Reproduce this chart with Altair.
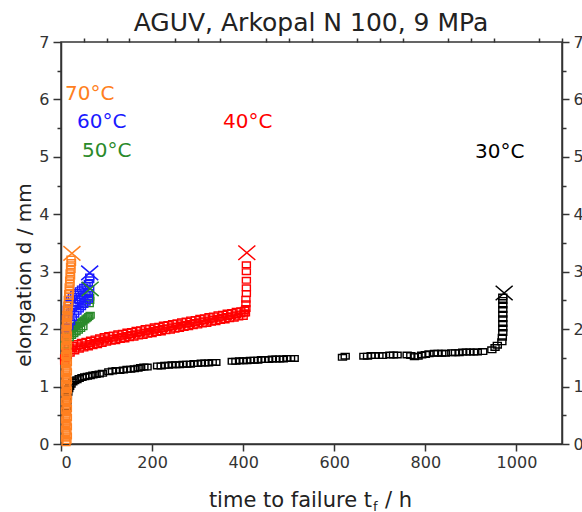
import altair as alt
import pandas as pd

# ---------------- data (time to failure t / h, elongation d / mm) ----------------
s30 = [(11,0.55),(12,0.65),(13,0.75),(14,0.83),(15,0.9),(17,0.96),(19,1.0),(22,1.04),(26,1.08),(30,1.1),
       (35,1.12),(40,1.14),(46,1.16),(52,1.17),(58,1.18),(64,1.19),(70,1.2),(77,1.21),(84,1.22),(91,1.23),
       (105,1.26),(113,1.27),(121,1.28),(129,1.28),(137,1.29),(145,1.3),(153,1.3),(161,1.31),(169,1.32),
       (175,1.33),(182,1.34),(189,1.34),
       (212,1.36),(220,1.36),(228,1.37),(236,1.37),(244,1.38),(252,1.38),(260,1.38),(268,1.39),(276,1.39),
       (284,1.39),(292,1.4),(300,1.4),(308,1.41),(316,1.41),(324,1.41),(332,1.42),(340,1.42),
       (376,1.44),(384,1.44),(392,1.45),(400,1.45),(408,1.45),(416,1.46),(424,1.46),(432,1.46),(440,1.47),
       (448,1.47),(456,1.47),(464,1.48),(472,1.48),(480,1.48),(488,1.48),(496,1.49),(504,1.49),(512,1.49),
       (618,1.51),(624,1.53),
       (665,1.53),(673,1.53),(681,1.54),(690,1.54),(698,1.54),(706,1.54),(722,1.55),(730,1.55),(738,1.55),
       (760,1.55),(768,1.54),(776,1.52),(784,1.53),(792,1.55),(800,1.56),(808,1.57),
       (820,1.58),(828,1.58),(836,1.58),(844,1.58),(858,1.59),(866,1.59),(874,1.59),(882,1.6),(890,1.6),
       (898,1.6),(906,1.6),(914,1.6),(926,1.61),
       (946,1.64),(953,1.68),(958,1.72),
       (968,1.78),(969,1.86),(970,1.94),(970,2.02),(970,2.1),(970,2.18),(970,2.26),(970,2.34),(970,2.42),
       (970,2.5),(970,2.56)]

s40 = [(8,1.50),(12,1.62),(17,1.68),(25,1.72),(35,1.75),(45,1.77),(55,1.79),(65,1.81),(75,1.83),(85,1.85),
       (95,1.87),(105,1.89),(115,1.90),(125,1.92),(135,1.93),(145,1.95),(155,1.96),(165,1.98),(175,1.99),
       (185,2.01),(195,2.02),(205,2.04),(215,2.05),(225,2.07),(235,2.08),(245,2.10),(255,2.11),(265,2.13),
       (275,2.14),(285,2.16),(295,2.17),(305,2.19),(315,2.20),(325,2.22),(335,2.23),(345,2.25),(355,2.26),
       (365,2.28),(375,2.29),(385,2.31),(395,2.32),(403,2.33),
       (15,1.61),(25,1.66),(35,1.69),(45,1.71),(55,1.73),(65,1.75),(75,1.77),(85,1.79),(95,1.81),(105,1.83),
       (115,1.845),(125,1.86),(135,1.875),(145,1.89),(155,1.905),(165,1.92),(175,1.935),(185,1.95),
       (195,1.965),(205,1.98),(215,1.995),(225,2.01),(235,2.025),(245,2.04),(255,2.055),(265,2.07),
       (275,2.085),(285,2.10),(295,2.115),(305,2.13),(315,2.145),(325,2.16),(335,2.175),(345,2.19),
       (355,2.205),(365,2.22),(375,2.235),(385,2.25),(395,2.265),(402,2.28),
       (8,1.44),(10,1.48),(14,1.54),(20,1.58),(30,1.62),(40,1.65),(50,1.67),(60,1.69),(70,1.71),(80,1.73),
       (90,1.75),(100,1.77),(110,1.79),(120,1.80),(130,1.82),(140,1.83),(150,1.85),(160,1.86),(170,1.88),
       (180,1.89),(190,1.91),(200,1.92),(210,1.94),(220,1.95),(230,1.97),(240,1.98),(250,2.00),(260,2.01),
       (270,2.03),(280,2.04),(290,2.06),(300,2.07),(310,2.09),(320,2.10),(330,2.12),(340,2.13),(350,2.15),
       (360,2.16),(370,2.18),(380,2.19),(390,2.21),(400,2.22),
       (405,2.28),(406,2.36),(406,2.44),(406,2.52),(407,2.62),(407,2.72),(407,2.85),(407,3.0),(407,3.12)]

s50 = [(9,1.72),(10,1.78),(11,1.84),(13,1.89),(15,1.93),(18,1.96),(21,1.99),(24,2.01),(28,2.03),(32,2.05),
       (36,2.07),(40,2.1),(44,2.12),(48,2.14),(52,2.16),(55,2.18),(58,2.2),(61,2.22),(64,2.24),
       (18,1.85),(23,1.89),(28,1.92),(33,1.95),(38,1.98),(43,2.01),(48,2.04),
       (62,2.44),(63,2.5),(63,2.56)]

s60 = [(12,2.2),(14,2.35),(17,2.45),(21,2.52),(25,2.57),(30,2.61),(35,2.64),(40,2.67),(45,2.7),(50,2.73),
       (55,2.76),(60,2.8),(63,2.86),(63,2.91),
       (11,2.0),(14,2.12),(17,2.22),(21,2.3),(25,2.36),(30,2.41),(35,2.45),(40,2.49),(45,2.52),(50,2.56),
       (55,2.6),(60,2.64),(63,2.7),
       (13,1.92),(17,2.05),(21,2.13),(25,2.2),(30,2.26),(35,2.31),(40,2.35),(45,2.39),(50,2.43),(55,2.47),
       (60,2.52)]

s70 = [(11,0.02),(13,0.06),(10,0.1),(14,0.14),(11,0.18),(13,0.22),(10,0.26),(14,0.3),(11,0.34),(13,0.38),
       (10,0.42),(14,0.46),(11,0.5),(13,0.54),(10,0.58),(14,0.62),(11,0.66),(13,0.7),(10,0.74),(14,0.78),
       (11,0.82),(13,0.86),(10,0.9),(14,0.94),(11,0.98),(13,1.02),(10,1.06),(14,1.1),(11,1.14),(13,1.18),
       (10,1.22),(14,1.26),(11,1.3),(13,1.34),(10,1.38),(14,1.42),(11,1.46),(13,1.5),(10,1.54),(14,1.58),
       (11,1.62),(13,1.66),(10,1.7),(14,1.74),(11,1.78),(13,1.82),(10,1.86),(14,1.9),(11,1.94),(13,1.98),
       (11,2.02),(14,2.06),(12,2.1),(14,2.14),(12,2.18),(15,2.22),(13,2.26),(15,2.3),(14,2.34),(16,2.38),
       (15,2.42),(17,2.47),(16,2.52),(18,2.57),(17,2.62),(19,2.68),(18,2.74),(20,2.8),(19,2.86),(21,2.92),
       (20,2.98),(22,3.04),(21,3.1),(23,3.16),(22,3.22)]

series_names = ["30°C", "40°C", "50°C", "60°C", "70°C"]
series_colors = ["#000000", "#ff0000", "#2a8a2a", "#1a1aff", "#ff8020"]
failure_t = [973, 408, 64, 63, 24]
failure_d = [2.63, 3.33, 2.7, 2.98, 3.32]

rows = []
for name, pts in zip(series_names, [s30, s40, s50, s60, s70]):
    for t, d in pts:
        rows.append({"t": t, "d": d, "s": name})
df = pd.DataFrame(rows)
fail_df = pd.DataFrame({"t": failure_t, "d": failure_d, "s": series_names})

FONT = "DejaVu Sans"
AX = "#333333"
xscale = alt.Scale(domain=[0, 1100], nice=False, zero=False)
yscale = alt.Scale(domain=[0, 7], nice=False, zero=False)
cscale = alt.Scale(domain=series_names, range=series_colors)

def ax(**kw):
    base = dict(title=None, grid=False, domainColor=AX, tickColor=AX, domainWidth=1.5, tickWidth=1.5,
                labelColor=AX, labelFont=FONT, labelFontSize=16)
    base.update(kw)
    return alt.Axis(**base)

rect = "M-1,-0.7L1,-0.7L1,0.7L-1,0.7Z"
xshape = "M-1,-0.85L1,0.85M-1,0.85L1,-0.85"

points = alt.Chart(df).mark_point(shape=rect, filled=False, size=64, strokeWidth=1.4, opacity=1).encode(
    x=alt.X("t:Q", scale=xscale, axis=ax(values=[0, 200, 400, 600, 800, 1000], tickSize=7, labelPadding=3, format="d")),
    y=alt.Y("d:Q", scale=yscale, axis=ax(orient="left", values=list(range(8)), tickSize=8, labelPadding=4, format="d")),
    color=alt.Color("s:N", scale=cscale, legend=None),
)

crosses = alt.Chart(fail_df).mark_point(shape=xshape, filled=False, size=290, strokeWidth=1.5, opacity=1).encode(
    x=alt.X("t:Q", scale=xscale, axis=ax(values=[v for v in range(50, 1101, 50) if v % 200 != 0], tickSize=4, labels=False, domain=False)),
    y=alt.Y("d:Q", scale=yscale, axis=ax(orient="left", values=[i + 0.5 for i in range(7)], tickSize=4, labels=False, domain=False)),
    color=alt.Color("s:N", scale=cscale, legend=None),
)

right_major = alt.Chart(fail_df).mark_point(opacity=0).encode(
    x=alt.X("t:Q", scale=xscale, axis=None),
    y=alt.Y("d:Q", scale=yscale, axis=ax(orient="right", values=list(range(8)), tickSize=7, labelPadding=4, format="d")),
)
right_minor = alt.Chart(fail_df).mark_point(opacity=0).encode(
    x=alt.X("t:Q", scale=xscale, axis=None),
    y=alt.Y("d:Q", scale=yscale, axis=ax(orient="right", values=[i + 0.5 for i in range(7)], tickSize=4, labels=False, domain=False)),
)

def label(txt, x, y, color, size=20, align="left", angle=0, baseline="middle"):
    return alt.Chart(pd.DataFrame({"txt": [txt]})).mark_text(
        font=FONT, fontSize=size, color=color, align=align, baseline=baseline, angle=angle
    ).encode(text="txt:N", x=alt.value(x), y=alt.value(y))

labels = [
    label("70°C", 4, 52, "#ff8020"),
    label("60°C", 16, 80, "#1a1aff"),
    label("50°C", 21, 109, "#2a8a2a"),
    label("40°C", 162, 80, "#ff0000"),
    label("30°C", 414, 110, "#000000"),
    label("AGUV, Arkopal N 100, 9 MPa", 250, -11, "#222222", size=25, align="center", baseline="alphabetic"),
    label("elongation d / mm", -36, 233, "#222222", size=20, align="center", angle=270),
    label("time to failure t", 311, 465, "#222222", size=21, align="right", baseline="alphabetic"),
    label("f", 312, 469, "#222222", size=13, align="left", baseline="alphabetic"),
    label("/ h", 324, 465, "#222222", size=21, align="left", baseline="alphabetic"),
]

chart = alt.layer(right_major, right_minor, points, crosses, *labels).resolve_axis(
    x="independent", y="independent"
).properties(
    width=501, height=402,
    padding={"left": 61, "top": 42, "right": 20, "bottom": 68},
    autosize=alt.AutoSizeParams(type="none"),
    background="white",
).configure_view(stroke=AX, strokeWidth=1.5)

chart.save("out.html", embed_options={"renderer": "svg", "actions": False})
